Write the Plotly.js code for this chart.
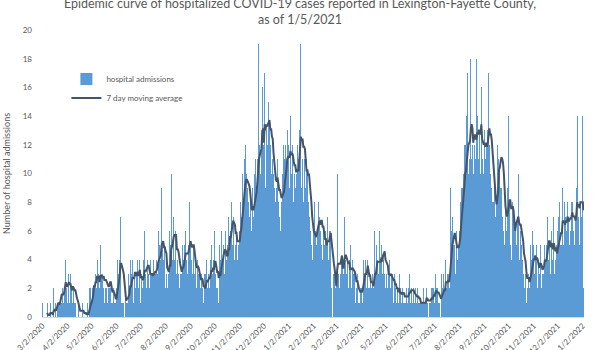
<!DOCTYPE html>
<html>
<head>
<meta charset="utf-8">
<script src="https://cdn.plot.ly/plotly-3.0.1.min.js"></script>
<style>html,body{margin:0;padding:0;background:#fff;}#chart{width:600px;height:350px;}</style>
</head>
<body>
<div id="chart"></div>
<script>
// ---- data (daily hospital admissions, starting 3/2/2020) ----
var chartTitle = "Epidemic curve of hospitalized COVID-19 cases reported in Lexington-Fayette County,<br>as of 1/5/2021";
var yAxisTitle = "Number of hospital admissions";
var barSeriesName = "hospital admissions";
var lineSeriesName = "7 day moving average";
var startDate = "2020-03-02";
var admissions2020 = [
  1,0,0,0,0,0,1, 0,0,0,1,0,0,0, 2,0,1,0,2,1,1, 1,1,4,1,2,1,2, 3,4,2,1,3,2,1,
  3,2,1,3,2,1,1, 0,1,0,1,0,0,1, 0,1,0,0,0,0,0, 1,0,2,1,2,1,2, 2,5,2,3,2,4,1,
  3,2,5,3,2,3,2, 1,2,5,2,1,2,2, 3,2,1,1,2,1,1, 1,2,4,3,5,4,7, 1,1,2,1,0,2,1,
  2,1,3,2,4,2,3, 4,1,3,5,2,3,4, 2,3,4,1,3,2,3, 4,6,3,2,4,3,3, 2,4,3,2,3,4,3,
  3,4,4,3,6,5,4, 4,9,5,4,3,5,2, 3,2,4,3,6,5,10, 4,4,7,4,6,5,3, 4,3,2,3,4,3,5,
  4,5,4,6,4,3,5, 6,8,5,4,3,4,5, 3,4,2,3,4,3,3, 2,1,3,2,1,3,2, 3,4,2,3,2,3,4,
  5,3,4,2,6,3,2, 2,3,1,5,4,6,5, 4,5,3,6,3,4,5, 7,5,9,6,8,5,7, 6,4,5,6,4,5,7,
  6,8,7,10,9,8,11, 12,10,7,9,8,7,8, 7,6,9,7,10,9,11, 9,11,19,8,12,10,13,
  16,14,12,17,9,13,12, 17,15,13,12,10,9,11, 10,9,8,10,9,11,8, 7,9,6,8,10,12,9,
  11,12,10,13,11,12,9
];
var admissions2021 = [
  14,10,11,12,8,10,9, 11,10,12,11,13,19,12, 9,11,8,11,12,9,11, 10,8,9,7,6,5,4,
  5,6,8,6,5,7,6, 8,7,6,8,5,4,6, 5,4,6,5,7,4,6, 7,6,2,0,3,2,3, 2,3,10,3,3,2,3,
  4,5,4,3,7,4,3, 3,4,2,4,3,5,2, 4,3,2,3,1,2,3, 1,2,1,2,2,1,5, 4,3,4,2,3,4,2,
  2,3,1,2,3,2,6, 4,3,5,4,3,2,6, 4,5,3,7,4,3,2, 3,4,2,3,4,2,3, 2,3,1,3,2,2,1,
  2,1,3,1,2,1,2, 1,2,1,1,2,1,2, 2,3,1,2,2,1,2, 1,2,1,1,2,1,1, 1,0,1,1,2,1,1,
  1,2,1,0,2,1,1, 2,2,1,2,1,3,2, 1,2,1,1,0,2,3, 2,3,2,1,4,2,3, 3,2,5,9,6,7,5,
  4,5,3,6,4,7,5, 6,8,9,10,9,10,12, 12,9,14,17,10,11,13, 18,11,12,10,13,12,11,
  18,14,11,12,13,10,16, 11,12,10,13,11,12,14, 13,17,12,10,11,9,8, 8,9,6,7,8,12,11,
  19,10,9,9,7,10,6, 5,8,6,7,9,14,8, 5,4,6,8,7,6,6, 8,5,7,10,4,5,6, 5,4,3,4,2,3,1,
  2,4,3,2,5,4,3, 6,5,3,4,3,5,2, 4,3,5,4,2,3,3, 5,6,4,5,7,4,6, 5,3,6,4,5,7,3,
  4,5,3,6,7,8,5, 7,5,9,5,8,6,7, 6,8,7,5,9,6,8, 8,6,7,5,7,9, 14,6,7,5,8,7,9
];
var admissions2022 = [14,2];
var tickLabels = ["3/2/2020","4/2/2020","5/2/2020","6/2/2020","7/2/2020","8/2/2020","9/2/2020","10/2/2020","11/2/2020","12/2/2020",
  "1/2/2021","2/2/2021","3/2/2021","4/2/2021","5/2/2021","6/2/2021","7/2/2021","8/2/2021","9/2/2021","10/2/2021","11/2/2021","12/2/2021","1/2/2022"];
var yTicks = [0,2,4,6,8,10,12,14,16,18,20];

// ---- build ----
var admissions = admissions2020.concat(admissions2021, admissions2022);
function iso(d){return d.toISOString().slice(0,10);}
var dates = [];
var s = new Date(startDate + "T00:00:00Z");
for (var i = 0; i < admissions.length; i++) {
  dates.push(iso(new Date(s.getTime() + i*86400000)));
}
var maX = [], maY = [];
for (var i = 6; i < admissions.length; i++) {
  var sum = 0;
  for (var k = i-6; k <= i; k++) sum += admissions[k];
  maX.push(dates[i]); maY.push(sum/7);
}
var tickVals = tickLabels.map(function(t){
  var p = t.split("/");
  return p[2] + "-" + ("0"+p[0]).slice(-2) + "-" + ("0"+p[1]).slice(-2);
});
var endDate = new Date(s.getTime() + (admissions.length - 0.5)*86400000);
var startRange = new Date(s.getTime() - 0.5*86400000);

var grey = "#595959";
var font = "Lato, 'Open Sans', sans-serif";
var traces = [
  {type:"bar", x:dates, y:admissions, name:barSeriesName,
   marker:{color:"#5B9BD5", line:{width:0}}},
  {type:"scatter", mode:"lines", x:maX, y:maY, name:lineSeriesName,
   line:{color:"#44546A", width:2}}
];
var layout = {
  width:600, height:350,
  margin:{l:42, r:16, t:30, b:33},
  paper_bgcolor:"#fff", plot_bgcolor:"#fff",
  bargap:0,
  showlegend:true,
  font:{family:font, color:grey},
  title:{text:chartTitle, x:0.5, xanchor:"center", y:0.978, yref:"container", yanchor:"bottom",
         font:{family:font, size:12.5, color:grey}},
  legend:{x:0.045, y:0.88, xanchor:"left", yanchor:"top", bgcolor:"rgba(0,0,0,0)",
          font:{family:font, size:8, color:grey}, itemwidth:30, tracegroupgap:0},
  xaxis:{type:"date", range:[iso(startRange)+" 12:00", endDate.toISOString().slice(0,19).replace("T"," ")],
         tickvals:tickVals, ticktext:tickLabels, tickangle:-45,
         tickfont:{family:font, size:8, color:grey}, showgrid:false, zeroline:false,
         showline:true, linecolor:"#D9D9D9", linewidth:1, ticks:"", automargin:false},
  yaxis:{range:[0,20], tickvals:yTicks, showgrid:false, zeroline:false, showline:false, ticks:"",
         tickfont:{family:font, size:8, color:grey}, ticklabelstandoff:9,
         title:{text:yAxisTitle, font:{family:font, size:9, color:grey}, standoff:10}, automargin:false}
};
Plotly.newPlot("chart", traces, layout, {displayModeBar:false, staticPlot:true});
</script>
</body>
</html>
